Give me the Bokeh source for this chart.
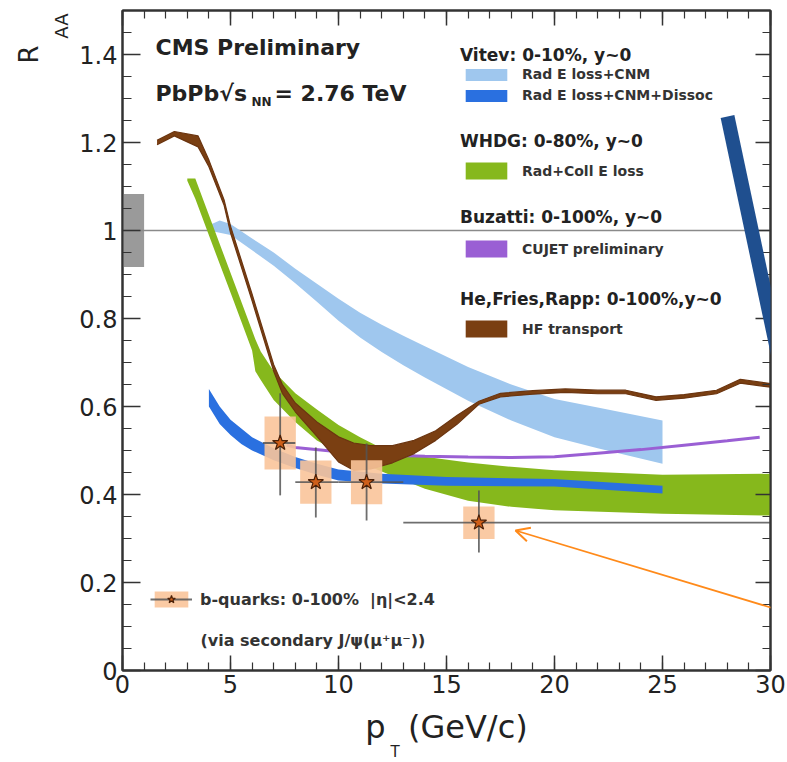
from math import pi
from bokeh.plotting import figure
from bokeh.models import (Range1d, LinearAxis, SingleIntervalTicker, CustomJSTickFormatter,
                          Label, Legend, LegendItem, Arrow, OpenHead, Title)
from bokeh.embed import file_html
from bokeh.resources import INLINE

# ---------------- data ----------------
# Vitev: Rad E loss + CNM (light blue band)
vitev_x = [4.0, 4.5, 5.0, 6.0, 7.0, 8.0, 9.0, 10.0, 11.0, 12.0, 13.0, 14.0, 16.0, 18.0, 20.0, 22.0, 25.0]
vitev_hi = [1.012, 1.023, 1.015, 0.982, 0.95, 0.913, 0.879, 0.845, 0.813, 0.786, 0.761, 0.737, 0.69, 0.65, 0.617, 0.598, 0.568]
vitev_lo = [1.0, 0.995, 0.99, 0.955, 0.92, 0.88, 0.838, 0.795, 0.757, 0.724, 0.694, 0.666, 0.613, 0.568, 0.53, 0.505, 0.47]

# Vitev: Rad E loss + CNM + Dissoc (blue band)
dissoc_x = [4.0, 4.5, 5.0, 5.5, 6.0, 7.0, 8.0, 9.0, 10.0, 12.0, 15.0, 20.0, 25.0]
dissoc_hi = [0.64, 0.60, 0.57, 0.55, 0.53, 0.505, 0.485, 0.47, 0.457, 0.447, 0.44, 0.435, 0.42]
dissoc_lo = [0.60, 0.56, 0.535, 0.515, 0.50, 0.478, 0.46, 0.445, 0.432, 0.425, 0.42, 0.418, 0.402]

# WHDG: Rad + Coll E loss (green band)
whdg_x = [3.0, 3.37, 4.0, 5.0, 6.0, 6.15, 6.4, 7.0, 8.0, 9.0, 10.0, 11.0, 12.0, 14.0, 16.0, 18.0, 20.0, 25.0, 30.0]
whdg_hi = [1.118, 1.118, 1.035, 0.904, 0.773, 0.753, 0.725, 0.68, 0.63, 0.593, 0.558, 0.53, 0.505, 0.486, 0.473, 0.463, 0.455, 0.445, 0.447]
whdg_lo = [1.113, 1.072, 0.989, 0.859, 0.727, 0.68, 0.66, 0.615, 0.565, 0.523, 0.496, 0.472, 0.452, 0.413, 0.386, 0.372, 0.364, 0.356, 0.352]

# Buzatti: CUJET preliminary (purple line)
cujet_x = [7.6, 8.0, 10.0, 12.0, 14.0, 16.0, 18.0, 20.0, 22.0, 24.0, 26.0, 28.0, 29.5]
cujet_y = [0.512, 0.507, 0.497, 0.49, 0.487, 0.485, 0.484, 0.486, 0.494, 0.502, 0.512, 0.522, 0.53]

# He, Fries, Rapp: HF transport (brown band)
hf_x = [1.6, 2.4, 3.5, 4.0, 4.7, 5.0, 6.0, 7.0, 7.4, 8.0, 9.0, 10.0, 10.7, 11.5, 12.5, 13.5, 14.5,
        15.5, 16.5, 17.5, 19.0, 20.5, 22.0, 23.3, 24.7, 26.0, 27.5, 28.6, 30.0]
hf_hi = [1.205, 1.225, 1.215, 1.16, 1.07, 1.01, 0.855, 0.695, 0.65, 0.608, 0.565, 0.531, 0.517, 0.511,
         0.511, 0.523, 0.545, 0.58, 0.612, 0.63, 0.636, 0.64, 0.637, 0.637, 0.622, 0.627, 0.637, 0.662, 0.652]
hf_lo = [1.195, 1.215, 1.19, 1.145, 1.058, 0.995, 0.84, 0.68, 0.63, 0.588, 0.532, 0.474, 0.455, 0.458,
         0.472, 0.493, 0.523, 0.56, 0.605, 0.622, 0.628, 0.632, 0.629, 0.629, 0.614, 0.619, 0.629, 0.653, 0.644]

# CMS b-quarks (via secondary J/psi)
bq_pt = [7.3, 8.95, 11.3, 16.5]
bq_raa = [0.517, 0.428, 0.428, 0.336]
bq_stat_up = [0.113, 0.079, 0.088, 0.073]
bq_stat_dn = [0.119, 0.080, 0.087, 0.068]
bq_syst = [0.060, 0.049, 0.050, 0.037]
bq_bin_lo = [6.5, 8.0, 10.0, 13.0]
bq_bin_hi = [8.0, 10.0, 13.0, 30.0]

# global normalisation uncertainty at R_AA = 1
global_unc = 0.083

# ---------------- geometry helpers (page pixels -> data) ----------------
FL, FT, FW, FH = 122.0, 10.0, 648.0, 660.0
XMAX, YMAX = 30.0, 1.5


def dx(px):
    return (px - FL) / FW * XMAX


def dy(py):
    return (FT + FH - py) / FH * YMAX


FONT = "DejaVu Sans"

p = figure(width=787, height=762, output_backend="svg", toolbar_location=None,
           x_range=Range1d(0, XMAX), y_range=Range1d(0, YMAX),
           min_border_left=122, min_border_right=17, min_border_top=10, min_border_bottom=92,
           background_fill_color="white", border_fill_color="white")
p.grid.visible = False
p.outline_line_color = "#333333"
p.outline_line_width = 2

bx = p.below[0]
ly = p.left[0]
bx.ticker = SingleIntervalTicker(interval=5, num_minor_ticks=5)
ly.ticker = SingleIntervalTicker(interval=0.2, num_minor_ticks=4)
ly.formatter = CustomJSTickFormatter(code="return Number(tick.toFixed(1)).toString();")


def style_axis(ax, major, minor, labels=True):
    ax.major_tick_in = major
    ax.major_tick_out = 0
    ax.minor_tick_in = minor
    ax.minor_tick_out = 0
    ax.major_tick_line_color = "#333333"
    ax.minor_tick_line_color = "#333333"
    ax.major_tick_line_width = 1.5
    ax.minor_tick_line_width = 1.2
    ax.axis_line_color = "#333333"
    ax.axis_line_width = 2
    if labels:
        ax.major_label_text_font = FONT
        ax.major_label_text_font_size = "24px"
        ax.major_label_text_color = "#222222"
    else:
        ax.formatter = CustomJSTickFormatter(code="return '';")
        ax.major_label_text_font_size = "1px"
        ax.major_label_standoff = 0


style_axis(bx, 15, 8)
style_axis(ly, 18, 9)
bx.major_label_standoff = 4
ly.major_label_standoff = 5

top_ax = LinearAxis(ticker=SingleIntervalTicker(interval=5, num_minor_ticks=5))
style_axis(top_ax, 15, 8, labels=False)
p.add_layout(top_ax, "above")
right_ax = LinearAxis(ticker=SingleIntervalTicker(interval=0.2, num_minor_ticks=4))
style_axis(right_ax, 15, 8, labels=False)
p.add_layout(right_ax, "right")

# axis titles: p_T (GeV/c) and R_AA
bx.axis_label = "p\u2002\u2009(GeV/c)"
bx.axis_label_text_font = FONT
bx.axis_label_text_font_size = "32px"
bx.axis_label_text_font_style = "normal"
bx.axis_label_text_color = "#222222"
bx.axis_label_standoff = 12
p.add_layout(Title(text="T", align="left", offset=268, standoff=-16, text_font=FONT,
                   text_font_size="15px", text_font_style="normal", text_color="#222222"), "below")

p.add_layout(Title(text="AA", align="right", offset=3, standoff=10, text_font=FONT,
                   text_font_size="18px", text_font_style="normal", text_color="#222222"), "left")
p.add_layout(Title(text="R", align="right", offset=35, standoff=0, text_font=FONT,
                   text_font_size="26px", text_font_style="normal", text_color="#222222"), "left")

# ---------------- reference line and global uncertainty ----------------
p.quad(left=[0], right=[1], bottom=[1 - global_unc], top=[1 + global_unc],
       fill_color="#9a9a9a", line_color=None)
p.line(x=[0, XMAX], y=[1, 1], line_color="#8a8a8a", line_width=1.6)

# ---------------- theory bands ----------------
r_vitev = p.varea(x=vitev_x, y1=vitev_lo, y2=vitev_hi, fill_color="#9fc7ee")
r_whdg = p.varea(x=whdg_x, y1=whdg_lo, y2=whdg_hi, fill_color="#86b81c")
r_dissoc = p.varea(x=dissoc_x, y1=dissoc_lo, y2=dissoc_hi, fill_color="#2a70e0")
p.line(x=cujet_x, y=cujet_y, line_color="#9a5fd4", line_width=3)
# zero-area companion so that the legend shows a filled swatch for CUJET
r_cujet_sw = p.varea(x=cujet_x, y1=cujet_y, y2=cujet_y, fill_color="#9a5fd4")
r_hf = p.varea(x=hf_x, y1=hf_lo, y2=hf_hi, fill_color="#7a3f12")
p.line(x=hf_x, y=hf_hi, line_color="#6b3510", line_width=1.2)
p.line(x=hf_x, y=hf_lo, line_color="#6b3510", line_width=1.2)

# ---------------- data points ----------------
box_top = [r + s for r, s in zip(bq_raa, bq_syst)]
box_bot = [r - s for r, s in zip(bq_raa, bq_syst)]
r_box = p.rect(x=bq_pt, y=[(a + b) / 2 for a, b in zip(box_top, box_bot)], width=1.45,
               height=[a - b for a, b in zip(box_top, box_bot)],
               fill_color="#f9c49a", fill_alpha=0.9, line_color=None)
r_hbar = p.segment(x0=bq_bin_lo, y0=bq_raa, x1=bq_bin_hi, y1=bq_raa,
                   line_color="#555555", line_width=1.8, line_alpha=0.85)
p.segment(x0=bq_pt, y0=[r - d for r, d in zip(bq_raa, bq_stat_dn)],
          x1=bq_pt, y1=[r + u for r, u in zip(bq_raa, bq_stat_up)],
          line_color="#555555", line_width=1.8, line_alpha=0.85)
r_star = p.scatter(x=bq_pt, y=bq_raa, marker="star", size=16,
                   fill_color="#cf5f1a", line_color="#4a2008", line_width=1.2)

# ---------------- legends ----------------


def make_legend(title, items, title_baseline, item_top, glyph_h, spacing):
    n = len(items)
    bottom = item_top + n * glyph_h + (n - 1) * spacing
    standoff = max(0, item_top - 4 - title_baseline)
    leg = Legend(items=items, title=title, location=(460 - FL, FT + FH - bottom),
                 padding=0, margin=0, spacing=spacing, title_standoff=standoff,
                 glyph_width=52, glyph_height=glyph_h, label_height=glyph_h,
                 label_standoff=10, border_line_alpha=0, background_fill_alpha=0,
                 title_text_font=FONT, title_text_font_style="bold",
                 title_text_font_size="17px", title_text_color="#222222",
                 label_text_font=FONT, label_text_font_style="bold",
                 label_text_font_size="14px", label_text_color="#333333")
    p.add_layout(leg)


make_legend("Vitev: 0-10%, y~0",
            [LegendItem(label="Rad E loss+CNM", renderers=[r_vitev]),
             LegendItem(label="Rad E loss+CNM+Dissoc", renderers=[r_dissoc])], 63, 68, 15, 5)
make_legend("WHDG: 0-80%, y~0",
            [LegendItem(label="Rad+Coll E loss", renderers=[r_whdg])], 147, 160, 21, 0)
make_legend("Buzatti: 0-100%, y~0",
            [LegendItem(label="CUJET preliminary", renderers=[r_cujet_sw])], 223, 238, 21, 0)
make_legend("He,Fries,Rapp: 0-100%,y~0",
            [LegendItem(label="HF transport", renderers=[r_hf])], 305, 318, 21, 0)

bq_leg = Legend(items=[LegendItem(label="b-quarks: 0-100%  |η|<2.4",
                                  renderers=[r_box, r_hbar, r_star])],
                location=(150 - FL, FT + FH - 609), padding=0, margin=0,
                glyph_width=42, glyph_height=20, label_height=20, label_standoff=8,
                border_line_alpha=0, background_fill_alpha=0,
                label_text_font=FONT, label_text_font_style="bold",
                label_text_font_size="16px", label_text_color="#333333")
p.add_layout(bq_leg)
p.add_layout(Label(x=dx(200), y=dy(640), text="(via secondary J/ψ(μ⁺μ⁻))",
                   text_font=FONT, text_font_style="bold", text_font_size="16px",
                   text_color="#333333", text_baseline="alphabetic"))

# ---------------- header texts ----------------
hdr = dict(text_font=FONT, text_font_style="bold", text_color="#222222", text_baseline="alphabetic")
p.add_layout(Label(x=dx(155), y=dy(47), text="CMS Preliminary", text_font_size="22px", **hdr))
p.add_layout(Label(x=dx(155), y=dy(93), text="PbPb√s", text_font_size="22px", **hdr))
p.add_layout(Label(x=dx(251), y=dy(101), text="NN", text_font_size="12px", **hdr))
p.add_layout(Label(x=dx(274), y=dy(93), text="= 2.76 TeV", text_font_size="22px", **hdr))

# ---------------- hand-drawn annotations ----------------
p.add_layout(Arrow(end=None, x_start=dx(727), y_start=dy(116), x_end=dx(800), y_end=dy(460),
                   line_color="#1f4f8f", line_width=14, line_cap="butt"))
p.add_layout(Arrow(end=OpenHead(size=14, line_color="#ff8a1a", line_width=2),
                   x_start=dx(800), y_start=dy(616), x_end=dx(515), y_end=dy(530),
                   line_color="#ff8a1a", line_width=1.8))

open("out.html", "w").write(file_html(p, INLINE))
